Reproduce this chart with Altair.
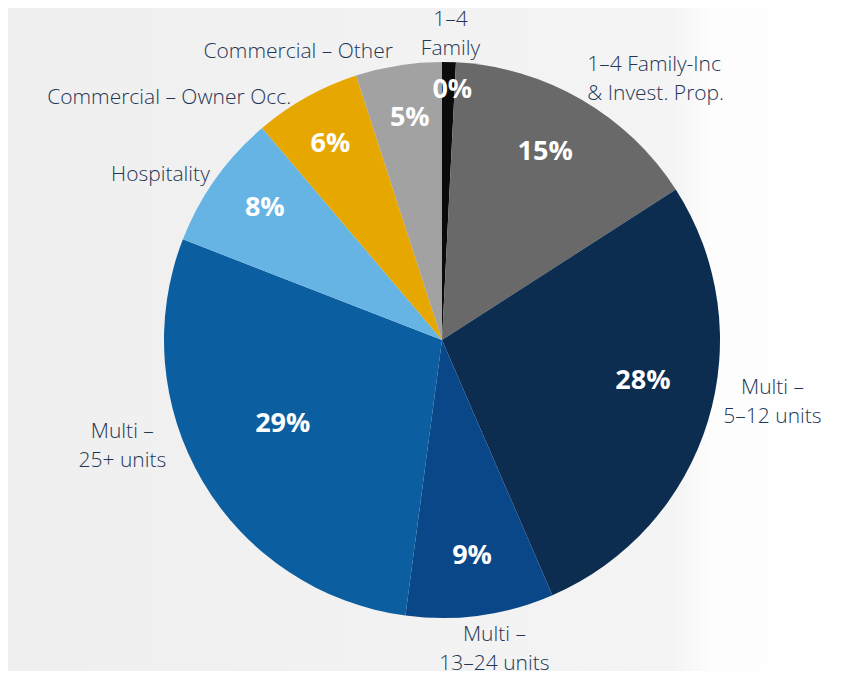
import altair as alt
import pandas as pd

categories = ["1–4 Family", "1–4 Family-Inc & Invest. Prop.", "Multi – 5–12 units",
              "Multi – 13–24 units", "Multi – 25+ units", "Hospitality",
              "Commercial – Owner Occ.", "Commercial – Other"]
category_labels = ["1–4\nFamily", "1–4 Family-Inc\n& Invest. Prop.", "Multi –\n5–12 units",
                   "Multi –\n13–24 units", "Multi –\n25+ units", "Hospitality",
                   "Commercial – Owner Occ.", "Commercial – Other"]
shares = [0.8, 15.1, 27.6, 8.6, 28.8, 7.9, 6.2, 5.0]
pct_labels = ["0%", "15%", "28%", "9%", "29%", "8%", "6%", "5%"]
colors = ["#0b0b0b", "#696969", "#0c2c50", "#0a4788", "#0b5e9f", "#66b4e4", "#e6a800", "#a2a2a2"]

W, H = 826, 663
CX, CY = 434, 332
R = 278

df = pd.DataFrame({
    "idx": list(range(len(categories))),
    "category": categories,
    "label": category_labels,
    "share": shares,
    "pct": pct_labels,
})

base = (
    alt.Chart(df)
    .transform_stack(stack="share", groupby=[], as_=["v0", "v1"],
                     sort=[alt.SortField("idx", order="ascending")])
    .transform_calculate(mid="(datum.v0 + datum.v1) / 2")
)

theta_scale = alt.Scale(domain=[0, 100])

bg = alt.Chart(pd.DataFrame({"a": [0]})).mark_rect(
    color=alt.Gradient(
        gradient="linear",
        stops=[alt.GradientStop(color="#efefef", offset=0),
               alt.GradientStop(color="#f4f4f4", offset=0.8),
               alt.GradientStop(color="#fdfdfd", offset=0.845),
               alt.GradientStop(color="#ffffff", offset=1)],
        x1=0, x2=1, y1=0, y2=0,
    )
).encode(x=alt.value(-8), x2=alt.value(W + 8), y=alt.value(-8), y2=alt.value(H + 8))

pie = base.mark_arc(outerRadius=R).encode(
    x=alt.value(CX), y=alt.value(CY),
    theta=alt.Theta("v0:Q", scale=theta_scale, stack=False),
    theta2="v1:Q",
    color=alt.Color("category:N", scale=alt.Scale(domain=categories, range=colors), legend=None),
)

# layout for percentage labels: radius, dx, dy
pct_layout = [(250, 4, 0), (214, -4, -3), (210, 0, -20), (218, 0, 0),
              (185, 0, -10), (220, 2, -4), (225, -2, 0), (225, 3, 0)]
# layout for category labels: radius, align, dx, dy (dy places first line)
cat_layout = [(300, "center", 1, -20), (300, "left", -5, -15), (335, "center", 10, -49),
              (315, "center", 9, -17), (340, "center", -27, -81), (290, "right", 4, 3),
              (285, "right", -12, 7), (295, "right", -3, 3)]

layers = [bg, pie]
for i in range(len(categories)):
    r, dx, dy = pct_layout[i]
    layers.append(
        base.transform_filter(alt.datum.idx == i).mark_text(
            radius=r, dx=dx, dy=dy, font="Open Sans", fontSize=27, fontWeight="bold",
            color="white", align="center", baseline="middle",
        ).encode(
            x=alt.value(CX), y=alt.value(CY),
            theta=alt.Theta("mid:Q", scale=theta_scale, stack=False),
            text="pct:N",
        )
    )
    r, al, dx, dy = cat_layout[i]
    layers.append(
        base.transform_filter(alt.datum.idx == i).mark_text(
            radius=r, dx=dx, dy=dy, font="Open Sans", fontSize=21, fontWeight=300,
            color="#1f3656", align=al, baseline="middle", lineBreak="\n", lineHeight=29,
        ).encode(
            x=alt.value(CX), y=alt.value(CY),
            theta=alt.Theta("mid:Q", scale=theta_scale, stack=False),
            text="label:N",
        )
    )

chart = alt.layer(*layers).properties(
    width=W, height=H, padding=0, autosize=alt.AutoSizeParams(type="none"),
    background="#f2f2f2",
).configure_view(stroke=None)

chart.save("out.html", embed_options={"renderer": "svg", "actions": False})
